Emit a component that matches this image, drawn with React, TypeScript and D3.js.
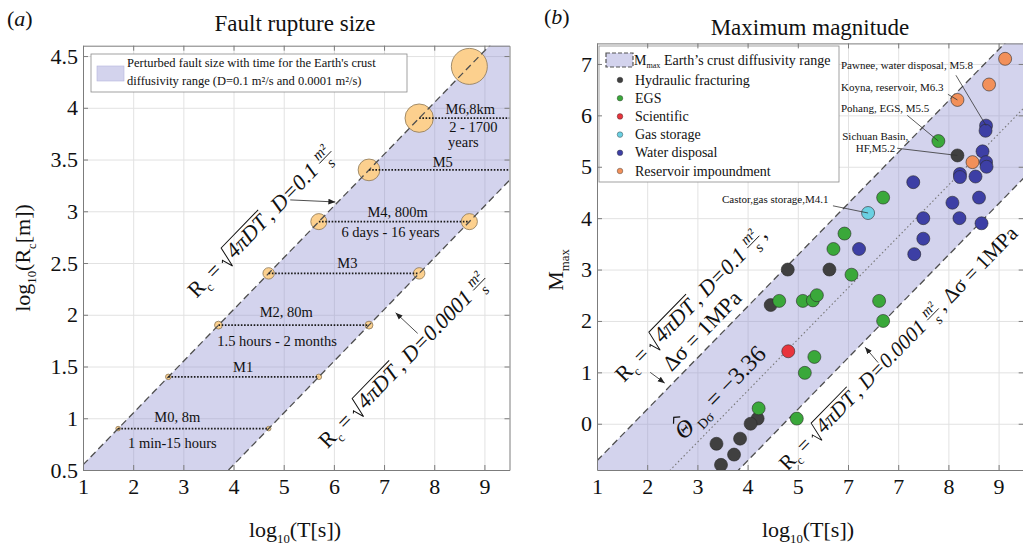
import React, { useEffect, useRef } from 'react'
import * as d3 from 'd3'

const FONT = '"Liberation Serif", "Times New Roman", Times, serif'

// ---- panel (a): fault rupture size ----
const magnitudes = [0, 1, 2, 3, 4, 5, 6, 7]
const ruptureLogR = [0.9, 1.4, 1.9, 2.4, 2.9, 3.4, 3.9, 4.4]
const fastLogT = [1.7, 2.7, 3.7, 4.7, 5.7, 6.7, 7.7, 8.7] // D = 0.1
const slowLogT = [4.7, 5.7, 6.7, 7.7, 8.7] // D = 0.0001 (M0-M4 only)
const diffusivities = [0.1, 0.0001]
const xTicksA = [1, 2, 3, 4, 5, 6, 7, 8, 9]
const yTicksA = [0.5, 1, 1.5, 2, 2.5, 3, 3.5, 4, 4.5]
const yTickLabelsA = ['0.5', '1', '1.5', '2', '2.5', '3', '3.5', '4', '4.5']
const ruptureLabels = [
  { text: 'M0, 8m', t: 2.88, r: 1.01 },
  { text: '1 min-15 hours', t: 2.78, r: 0.76 },
  { text: 'M1', t: 4.19, r: 1.49 },
  { text: 'M2, 80m', t: 5.05, r: 2.02 },
  { text: '1.5 hours - 2 months', t: 4.87, r: 1.74 },
  { text: 'M3', t: 6.27, r: 2.5 },
  { text: 'M4, 800m', t: 7.27, r: 2.99 },
  { text: '6 days - 16 years', t: 7.13, r: 2.8 },
  { text: 'M5', t: 8.17, r: 3.47 },
  { text: 'M6,8km', t: 8.72, r: 3.99 },
  { text: '2 - 1700', t: 8.78, r: 3.81 },
  { text: 'years', t: 8.58, r: 3.67 }
]

// ---- panel (b): maximum magnitude ----
const xTicksB = [1, 2, 3, 4, 5, 6, 7, 8, 9]
const xTickLabelsB = ['1', '2', '3', '4', '5', '7', '7', '8', '9']
const yTicksB = [0, 1, 2, 3, 4, 5, 6, 7]
const bandOffsets = [-1.72, -4.72] // D = 0.1 and D = 0.0001, dsigma = 1MPa
const thetaOffset = -3.36

const categories = ['Hydraulic fracturing', 'EGS', 'Scientific', 'Gas storage', 'Water disposal', 'Reservoir impoundment']
const categoryColors = ['#404040', '#3aa83a', '#e8343c', '#6ad0e2', '#3d3fa5', '#f2905a']

const hydraulicFracturing = [
  [4.8, 3.0], [5.63, 3.0], [4.46, 2.31], [4.2, 0.1], [4.06, 0.0], [3.85, -0.29],
  [3.38, -0.39], [3.73, -0.6], [3.47, -0.8], [8.18, 5.22]
]
const egs = [
  [7.8, 5.5], [6.7, 4.4], [5.93, 3.7], [5.71, 3.4], [6.07, 2.9], [4.63, 2.39], [5.1, 2.39],
  [5.3, 2.4], [5.38, 2.5], [6.62, 2.39], [6.7, 2.0], [5.33, 1.3], [5.14, 0.99], [4.22, 0.3], [4.98, 0.1]
]
const scientific = [[4.81, 1.41]]
const gasStorage = [[6.4, 4.1]]
const waterDisposal = [
  [8.75, 5.8], [8.74, 5.7], [8.68, 5.3], [8.75, 5.09], [8.76, 5.0], [8.23, 4.86], [8.23, 4.8],
  [8.54, 4.81], [7.3, 4.7], [8.61, 4.4], [8.08, 4.3], [7.5, 4.0], [8.22, 4.0], [8.66, 3.9],
  [7.5, 3.6], [6.22, 3.4], [7.32, 3.3]
]
const reservoir = [[9.13, 7.1], [8.81, 6.6], [8.18, 6.3], [8.48, 5.09]]
const seriesB = [hydraulicFracturing, egs, scientific, gasStorage, waterDisposal, reservoir]

// named events: label anchor (logT, M), leader start, target point
const events = [
  { text: 'Pawnee, water disposal, M5.8', t: 5.86, m: 6.97, anchor: 'start', from: [8.15, 6.78], to: [8.75, 5.8] },
  { text: 'Koyna, reservoir, M6.3', t: 5.86, m: 6.54, anchor: 'start', from: [7.99, 6.41], to: [8.18, 6.3] },
  { text: 'Pohang, EGS, M5.5', t: 5.86, m: 6.13, anchor: 'start', from: [7.18, 6.0], to: [7.8, 5.5] },
  { text: 'Sichuan Basin,', t: 7.2, m: 5.59, anchor: 'end', from: null, to: null },
  { text: 'HF,M5.2', t: 6.94, m: 5.36, anchor: 'end', from: [6.98, 5.36], to: [8.18, 5.22] },
  { text: 'Castor,gas storage,M4.1', t: 3.49, m: 4.36, anchor: 'start', from: [5.7, 4.24], to: [6.4, 4.1] }
]

type Seg = { k: string; s?: string; it?: boolean; n?: string; d?: string }

const nb = (s: string) => s.replace(/ /g, '\u00a0')

function drawEq(parent: any, cx: number, cy: number, angle: number, size: number, segs: Seg[], anchor = 'middle') {
  const g = parent.append('g').attr('transform', `translate(${cx},${cy}) rotate(${angle})`)
  const inner = g.append('g')
  let x = 0
  const txt = (s: string, fs: number, tx: number, ty: number, italic?: boolean) => {
    const t = inner.append('text')
      .attr('x', tx).attr('y', ty)
      .attr('font-size', fs).attr('font-family', FONT)
      .attr('font-style', italic ? 'italic' : 'normal')
      .attr('fill', '#111')
      .text(nb(s))
    return { el: t, w: (t.node() as SVGTextElement).getComputedTextLength() }
  }
  segs.forEach(seg => {
    if (seg.k === 't') {
      x += txt(seg.s!, size, x, 0, seg.it).w
    } else if (seg.k === 'sub') {
      x += txt(seg.s!, size * 0.58, x, size * 0.26, seg.it).w
    } else if (seg.k === 'hat') {
      const c = txt(seg.s!, size, x, 0, seg.it)
      const mx = x + c.w * 0.55
      inner.append('path')
        .attr('d', `M${mx - size * 0.2},${-size * 0.8} L${mx},${-size * 0.98} L${mx + size * 0.2},${-size * 0.8}`)
        .attr('fill', 'none').attr('stroke', '#111').attr('stroke-width', size / 20)
      x += c.w
    } else if (seg.k === 'sqrt') {
      const h = size * 0.8
      const rw = size * 0.45
      const c = txt(seg.s!, size, x + rw + 1, 0, true)
      inner.append('path')
        .attr('d', `M${x},${-h * 0.36} L${x + rw * 0.2},${-h * 0.46} L${x + rw * 0.5},${size * 0.14} L${x + rw},${-h} H${x + rw + c.w + 3}`)
        .attr('fill', 'none').attr('stroke', '#111').attr('stroke-width', size / 22)
      x += rw + c.w + 4
    } else if (seg.k === 'frac') {
      const fs = size * 0.68
      const num = txt(seg.n!, fs, 0, -size * 0.38, true)
      const den = txt(seg.d!, fs, 0, size * 0.3, true)
      const w = Math.max(num.w, den.w) + 2
      num.el.attr('x', x + (w - num.w) / 2)
      den.el.attr('x', x + (w - den.w) / 2)
      inner.append('line')
        .attr('x1', x).attr('x2', x + w)
        .attr('y1', -size * 0.27).attr('y2', -size * 0.27)
        .attr('stroke', '#111').attr('stroke-width', size / 24)
      x += w + 1
    }
  })
  inner.attr('transform', `translate(${anchor === 'middle' ? -x / 2 : 0},${size * 0.33})`)
}

function drawFrame(svg: any, x: any, y: any, xt: number[], yt: number[]) {
  const [x0, x1] = x.range()
  const [y1, y0] = y.range()
  const w = x1 - x0, h = y1 - y0
  const g = svg.append('g')
  // gridlines
  g.append('g')
    .attr('transform', `translate(0,${y1})`)
    .call(d3.axisBottom(x).tickValues(xt).tickSize(-h).tickFormat(() => ''))
    .call((s: any) => { s.select('.domain').remove(); s.selectAll('line').attr('stroke', '#e2e2e2') })
  g.append('g')
    .attr('transform', `translate(${x0},0)`)
    .call(d3.axisLeft(y).tickValues(yt).tickSize(-w).tickFormat(() => ''))
    .call((s: any) => { s.select('.domain').remove(); s.selectAll('line').attr('stroke', '#e2e2e2') })
  return g
}

function drawAxes(svg: any, x: any, y: any, xt: number[], xl: string[], yt: number[], yl: string[]) {
  const [x0, x1] = x.range()
  const [y1, y0] = y.range()
  const style = (s: any) => {
    s.select('.domain').attr('stroke', '#7c7c7c')
    s.selectAll('line').attr('stroke', '#7c7c7c')
    s.selectAll('text').attr('font-family', FONT).attr('font-size', 22).attr('fill', '#111')
  }
  svg.append('g').attr('transform', `translate(0,${y1})`)
    .call(d3.axisBottom(x).tickValues(xt).tickSizeInner(-5).tickSizeOuter(0).tickPadding(8).tickFormat((d: any, i: number) => xl[i]))
    .call(style)
  svg.append('g').attr('transform', `translate(0,${y0})`)
    .call(d3.axisTop(x).tickValues(xt).tickSizeInner(-5).tickSizeOuter(0).tickFormat(() => ''))
    .call(style)
  svg.append('g').attr('transform', `translate(${x0},0)`)
    .call(d3.axisLeft(y).tickValues(yt).tickSizeInner(-5).tickSizeOuter(0).tickPadding(5).tickFormat((d: any, i: number) => yl[i]))
    .call(style)
  svg.append('g').attr('transform', `translate(${x1},0)`)
    .call(d3.axisRight(y).tickValues(yt).tickSizeInner(-5).tickSizeOuter(0).tickFormat(() => ''))
    .call(style)
}

export default function App() {
  const ref = useRef<SVGSVGElement>(null)

  useEffect(() => {
    const svg = d3.select(ref.current)
    svg.selectAll('*').remove()

    const defs = svg.append('defs')
    defs.append('marker').attr('id', 'arr').attr('viewBox', '0 0 10 10')
      .attr('refX', 10).attr('refY', 5).attr('markerWidth', 7).attr('markerHeight', 7)
      .attr('markerUnits', 'userSpaceOnUse').attr('orient', 'auto')
      .append('path').attr('d', 'M0,1 L10,5 L0,9 z').attr('fill', '#222')

    // ================= panel (a) =================
    const xA = d3.scaleLinear().domain([1, 9.5]).range([83, 509.5])
    const yA = d3.scaleLinear().domain([0.5, 4.6]).range([470, 45.7])
    defs.append('clipPath').attr('id', 'clipA').append('rect')
      .attr('x', 83).attr('y', 45.7).attr('width', 426.5).attr('height', 424.3)

    drawFrame(svg, xA, yA, xTicksA, yTicksA)
    const gA = svg.append('g').attr('clip-path', 'url(#clipA)')
    const rLine = (D: number) => (t: number) => 0.5 * Math.log10(4 * Math.PI * D) + 0.5 * t
    const [upA, loA] = diffusivities.map(rLine)
    const [tMin, tMax] = xA.domain()
    gA.append('path')
      .attr('d', d3.line()([[xA(tMin), yA(upA(tMin))], [xA(tMax), yA(upA(tMax))], [xA(tMax), yA(loA(tMax))], [xA(tMin), yA(loA(tMin))]]) + 'Z')
      .attr('fill', '#8c8cd0').attr('fill-opacity', 0.38)

    const rScale = d3.scalePow().exponent(1.8).domain([0, 7]).range([2.3, 18])
    magnitudes.forEach((m, i) => {
      const pts = [fastLogT[i]]
      if (i < slowLogT.length) pts.push(slowLogT[i])
      pts.forEach(t => {
        gA.append('circle').attr('cx', xA(t)).attr('cy', yA(ruptureLogR[i])).attr('r', rScale(m))
          .attr('fill', '#fcd08e').attr('stroke', '#8a7656').attr('stroke-width', 0.8)
      })
    })
    ;[upA, loA].forEach(f => {
      gA.append('line').attr('x1', xA(tMin)).attr('y1', yA(f(tMin))).attr('x2', xA(tMax)).attr('y2', yA(f(tMax)))
        .attr('stroke', '#4f4f4f').attr('stroke-width', 1.3).attr('stroke-dasharray', '7,4')
    })
    magnitudes.forEach((m, i) => {
      if (i > 6) return
      const tEnd = i < slowLogT.length ? slowLogT[i] : tMax
      gA.append('line').attr('x1', xA(fastLogT[i])).attr('x2', xA(tEnd))
        .attr('y1', yA(ruptureLogR[i])).attr('y2', yA(ruptureLogR[i]))
        .attr('stroke', '#1a1a1a').attr('stroke-width', 1.6).attr('stroke-dasharray', '1.6,1.6')
    })
    ruptureLabels.forEach(l => {
      svg.append('text').attr('x', xA(l.t)).attr('y', yA(l.r)).attr('dy', '0.33em')
        .attr('text-anchor', 'middle').attr('font-family', FONT).attr('font-size', 14.5).attr('fill', '#111')
        .text(l.text)
    })

    const eqA1: Seg[] = [{ k: 't', s: 'R' }, { k: 'sub', s: 'c' }, { k: 't', s: ' = ' }, { k: 'sqrt', s: '4πDT' },
      { k: 't', s: ', ' }, { k: 't', s: 'D', it: true }, { k: 't', s: '=0.1 ', it: true }, { k: 'frac', n: 'm²', d: 's' }]
    const eqA2: Seg[] = [{ k: 't', s: 'R' }, { k: 'sub', s: 'c' }, { k: 't', s: ' = ' }, { k: 'sqrt', s: '4πDT' },
      { k: 't', s: ', ' }, { k: 't', s: 'D', it: true }, { k: 't', s: '=0.0001 ', it: true }, { k: 'frac', n: 'm²', d: 's' }]
    const angA = -Math.atan((yA(0) - yA(0.5)) / (xA(2) - xA(1))) * 180 / Math.PI
    drawEq(svg, xA(4.55), yA(2.9), angA, 22, eqA1)
    drawEq(svg, xA(7.39), yA(1.56), angA, 22, eqA2)

    svg.append('line').attr('x1', xA(5.13)).attr('y1', yA(3.11)).attr('x2', xA(6.03)).attr('y2', yA(3.09))
      .attr('stroke', '#222').attr('stroke-width', 0.8).attr('marker-end', 'url(#arr)')
    svg.append('line').attr('x1', xA(7.67)).attr('y1', yA(1.82)).attr('x2', xA(7.23)).attr('y2', yA(2.02))
      .attr('stroke', '#222').attr('stroke-width', 0.8).attr('marker-end', 'url(#arr)')

    // legend (a)
    const lgA = svg.append('g')
    lgA.append('rect').attr('x', 91).attr('y', 54).attr('width', 316).attr('height', 38)
      .attr('fill', '#fff').attr('stroke', '#8a8a8a').attr('stroke-width', 0.8)
    lgA.append('rect').attr('x', 97).attr('y', 66).attr('width', 27).attr('height', 15)
      .attr('fill', '#8c8cd0').attr('fill-opacity', 0.38).attr('stroke', '#b4b4dc').attr('stroke-width', 0.6)
    lgA.append('text').attr('x', 127).attr('y', 67).attr('font-family', FONT).attr('font-size', 12.5).attr('fill', '#111')
      .text("Perturbed fault size with time for the Earth's crust")
    lgA.append('text').attr('x', 127).attr('y', 85).attr('font-family', FONT).attr('font-size', 12.5).attr('fill', '#111')
      .text('diffusivity range (D=0.1 m²/s and 0.0001 m²/s)')

    drawAxes(svg, xA, yA, xTicksA, xTicksA.map(String), yTicksA, yTickLabelsA)

    svg.append('text').attr('x', 295).attr('y', 31).attr('text-anchor', 'middle')
      .attr('font-family', FONT).attr('font-size', 23).attr('fill', '#111').text('Fault rupture size')
    drawEq(svg, 7, 19, 0, 22, [{ k: 't', s: '(' }, { k: 't', s: 'a', it: true }, { k: 't', s: ')' }], 'start')
    drawEq(svg, 295, 530, 0, 22, [{ k: 't', s: 'log' }, { k: 'sub', s: '10' }, { k: 't', s: '(T[s])' }])
    drawEq(svg, 23, 258, -90, 22, [{ k: 't', s: 'log' }, { k: 'sub', s: '10' }, { k: 't', s: '(R' }, { k: 'sub', s: 'c' }, { k: 't', s: '[m])' }])

    // ================= panel (b) =================
    const xB = d3.scaleLinear().domain([1, 9.5]).range([597, 1023.7])
    const yB = d3.scaleLinear().domain([-0.9, 7.4]).range([470, 43.4])
    defs.append('clipPath').attr('id', 'clipB').append('rect')
      .attr('x', 597).attr('y', 43.4).attr('width', 426.7).attr('height', 426.6)

    drawFrame(svg, xB, yB, xTicksB, yTicksB)
    const gB = svg.append('g').attr('clip-path', 'url(#clipB)')
    const [bMin, bMax] = xB.domain()
    const [upB, loB] = bandOffsets.map(c => (t: number) => t + c)
    const midB = (t: number) => t + thetaOffset
    gB.append('path')
      .attr('d', d3.line()([[xB(bMin), yB(upB(bMin))], [xB(bMax), yB(upB(bMax))], [xB(bMax), yB(loB(bMax))], [xB(bMin), yB(loB(bMin))]]) + 'Z')
      .attr('fill', '#8c8cd0').attr('fill-opacity', 0.38)
    gB.append('line').attr('x1', xB(bMin)).attr('y1', yB(midB(bMin))).attr('x2', xB(bMax)).attr('y2', yB(midB(bMax)))
      .attr('stroke', '#777').attr('stroke-width', 1.1).attr('stroke-dasharray', '1.5,2.5')
    ;[upB, loB].forEach(f => {
      gB.append('line').attr('x1', xB(bMin)).attr('y1', yB(f(bMin))).attr('x2', xB(bMax)).attr('y2', yB(f(bMax)))
        .attr('stroke', '#4f4f4f').attr('stroke-width', 1.3).attr('stroke-dasharray', '7,4')
    })

    const angB = -Math.atan((yB(0) - yB(1)) / (xB(2) - xB(1))) * 180 / Math.PI
    drawEq(svg, xB(2.87), yB(2.33), angB, 22, [{ k: 't', s: 'R' }, { k: 'sub', s: 'c' }, { k: 't', s: ' = ' }, { k: 'sqrt', s: '4πDT' },
      { k: 't', s: ', ' }, { k: 't', s: 'D', it: true }, { k: 't', s: '=0.1 ', it: true }, { k: 'frac', n: 'm²', d: 's' }, { k: 't', s: ',' }])
    drawEq(svg, xB(3.09), yB(1.81), angB, 22, [{ k: 't', s: 'Δσ = 1MPa' }])
    drawEq(svg, xB(3.45), yB(0.61), angB, 24, [{ k: 'hat', s: 'Θ', it: true }, { k: 'sub', s: ' Dσ' }, { k: 't', s: ' = −3.36' }])
    drawEq(svg, xB(7.0), yB(1.47), angB, 21, [{ k: 't', s: 'R' }, { k: 'sub', s: 'c' }, { k: 't', s: ' = ' }, { k: 'sqrt', s: '4πDT' },
      { k: 't', s: ', ' }, { k: 't', s: 'D', it: true }, { k: 't', s: '=0.0001 ', it: true }, { k: 'frac', n: 'm²', d: 's' }, { k: 't', s: ', Δσ = 1MPa' }])

    svg.append('line').attr('x1', xB(2.06)).attr('y1', yB(1.0)).attr('x2', xB(2.35)).attr('y2', yB(0.79))
      .attr('stroke', '#222').attr('stroke-width', 0.8).attr('marker-end', 'url(#arr)')
    svg.append('line').attr('x1', xB(6.6)).attr('y1', yB(1.19)).attr('x2', xB(6.34)).attr('y2', yB(1.49))
      .attr('stroke', '#222').attr('stroke-width', 0.8).attr('marker-end', 'url(#arr)')

    seriesB.forEach((pts, i) => {
      gB.selectAll(null).data(pts).enter().append('circle')
        .attr('cx', (d: number[]) => xB(d[0])).attr('cy', (d: number[]) => yB(d[1])).attr('r', 6.5)
        .attr('fill', categoryColors[i]).attr('stroke', '#2a2a2a').attr('stroke-width', 0.6)
    })

    events.forEach(e => {
      svg.append('text').attr('x', xB(e.t)).attr('y', yB(e.m)).attr('dy', '0.33em')
        .attr('text-anchor', e.anchor).attr('font-family', FONT).attr('font-size', 11).attr('fill', '#111')
        .text(e.text)
      if (e.from && e.to) {
        svg.append('line').attr('x1', xB(e.from[0])).attr('y1', yB(e.from[1]))
          .attr('x2', xB(e.to[0])).attr('y2', yB(e.to[1]))
          .attr('stroke', '#333').attr('stroke-width', 0.8)
      }
    })

    // legend (b)
    const lgB = svg.append('g')
    lgB.append('rect').attr('x', 599).attr('y', 46).attr('width', 240).attr('height', 136)
      .attr('fill', '#fff').attr('stroke', '#8a8a8a').attr('stroke-width', 0.8)
    lgB.append('rect').attr('x', 606).attr('y', 53).attr('width', 27).attr('height', 14)
      .attr('fill', '#8c8cd0').attr('fill-opacity', 0.38).attr('stroke', '#555').attr('stroke-width', 1.2).attr('stroke-dasharray', '4,2')
    drawEq(lgB, 634, 60, 0, 14, [{ k: 't', s: 'M' }, { k: 'sub', s: 'max' }, { k: 't', s: ' Earth’s crust diffusivity range' }], 'start')
    categories.forEach((c, i) => {
      const cy = 80 + i * 18.2
      lgB.append('circle').attr('cx', 620).attr('cy', cy).attr('r', 2.8)
        .attr('fill', categoryColors[i]).attr('stroke', '#2a2a2a').attr('stroke-width', 0.4)
      lgB.append('text').attr('x', 635).attr('y', cy).attr('dy', '0.33em')
        .attr('font-family', FONT).attr('font-size', 14).attr('fill', '#111').text(c)
    })

    drawAxes(svg, xB, yB, xTicksB, xTickLabelsB, yTicksB, yTicksB.map(String))

    svg.append('text').attr('x', 810).attr('y', 35).attr('text-anchor', 'middle')
      .attr('font-family', FONT).attr('font-size', 23).attr('fill', '#111').text('Maximum magnitude')
    drawEq(svg, 544, 17, 0, 22, [{ k: 't', s: '(' }, { k: 't', s: 'b', it: true }, { k: 't', s: ')' }], 'start')
    drawEq(svg, 808, 530, 0, 22, [{ k: 't', s: 'log' }, { k: 'sub', s: '10' }, { k: 't', s: '(T[s])' }])
    drawEq(svg, 556, 270, -90, 22, [{ k: 't', s: 'M' }, { k: 'sub', s: 'max' }])
  }, [])

  return (
    <svg
      ref={ref}
      width={1023}
      height={549}
      style={{ position: 'absolute', left: 0, top: 0, background: '#fff' }}
    />
  )
}
